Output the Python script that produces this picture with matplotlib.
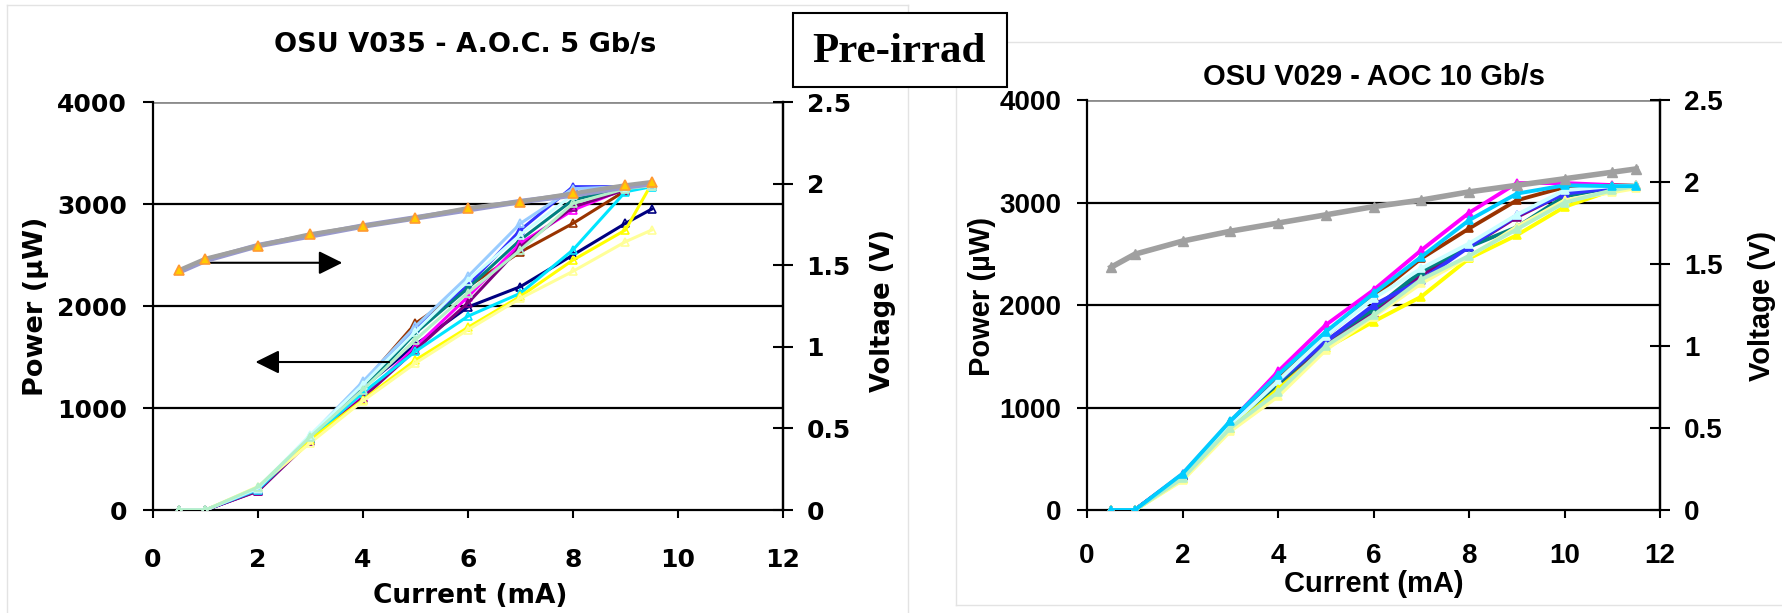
import matplotlib
matplotlib.use("Agg")
from matplotlib import pyplot as plt
from matplotlib.patches import Rectangle
from matplotlib.lines import Line2D

plt.rcParams['font.family'] = ['Liberation Sans', 'DejaVu Sans']
plt.rcParams['font.weight'] = 'bold'

# left chart: OSU V035 - A.O.C. 5 Gb/s
current_l = [0.5, 1, 2, 3, 4, 5, 6, 7, 8, 9, 9.5]
volt_l_a = [1.47, 1.54, 1.62, 1.69, 1.74, 1.79, 1.85, 1.89, 1.94, 1.99, 2.01]
volt_l_b = [1.46, 1.53, 1.62, 1.68, 1.74, 1.79, 1.84, 1.89, 1.93, 1.98, 2.00]
power_l = {
    "#000080": [0, 0, 190, 700, 1200, 1620, 1990, 2190, 2500, 2810, 2950],
    "#993300": [0, 0, 200, 710, 1240, 1830, 2190, 2530, 2810, 3130, 3180],
    "#3333FF": [0, 0, 195, 720, 1210, 1780, 2200, 2745, 3170, 3170, 3190],
    "#008080": [0, 0, 200, 700, 1190, 1735, 2175, 2650, 3040, 3160, 3190],
    "#FF00FF": [0, 0, 190, 690, 1110, 1600, 2090, 2615, 2940, 3150, 3180],
    "#800080": [0, 0, 185, 680, 1100, 1570, 2030, 2580, 2970, 3140, 3180],
    "#00E5FF": [0, 0, 200, 700, 1150, 1555, 1900, 2125, 2550, 3120, 3170],
    "#FFFF00": [0, 0, 220, 690, 1080, 1470, 1790, 2095, 2450, 2745, 3200],
    "#FFFF99": [0, 0, 230, 660, 1070, 1440, 1767, 2075, 2340, 2630, 2745],
    "#99CCFF": [0, 0, 210, 730, 1260, 1800, 2290, 2810, 3150, 3170, 3190],
    "#CCFFFF": [0, 0, 215, 740, 1230, 1750, 2250, 2700, 3090, 3160, 3180],
    "#B3F0C8": [0, 0, 225, 720, 1180, 1670, 2130, 2550, 3005, 3150, 3180],
}

# right chart: OSU V029 - AOC 10 Gb/s
current_r = [0.5, 1, 2, 3, 4, 5, 6, 7, 8, 9, 10, 11, 11.5]
volt_r = [1.48, 1.56, 1.64, 1.70, 1.75, 1.80, 1.85, 1.89, 1.94, 1.98, 2.02, 2.06, 2.08]
power_r = {
    "#FF00FF": [0, 0, 350, 860, 1352, 1806, 2147, 2536, 2900, 3190, 3190, 3170, 3165],
    "#993300": [0, 0, 345, 855, 1280, 1700, 2080, 2455, 2747, 3022, 3150, 3165, 3170],
    "#800080": [0, 0, 335, 830, 1206, 1620, 1920, 2293, 2568, 2860, 3090, 3150, 3160],
    "#008080": [0, 0, 330, 825, 1230, 1650, 1960, 2330, 2568, 2760, 3060, 3150, 3165],
    "#3333FF": [0, 0, 340, 840, 1255, 1644, 2000, 2244, 2568, 2876, 3087, 3140, 3165],
    "#CCFFFF": [0, 0, 325, 820, 1260, 1700, 2065, 2357, 2600, 2880, 3120, 3160, 3170],
    "#FFFF00": [0, 0, 300, 790, 1180, 1580, 1839, 2082, 2455, 2682, 2958, 3120, 3165],
    "#FFFF99": [0, 0, 290, 770, 1110, 1563, 1887, 2212, 2471, 2763, 3022, 3100, 3140],
    "#B3F0C8": [0, 0, 310, 800, 1150, 1600, 1900, 2250, 2480, 2740, 3000, 3120, 3160],
    "#00CCFF": [0, 0, 355, 870, 1320, 1741, 2114, 2471, 2828, 3087, 3168, 3160, 3160],
}

power_ticks = [0, 1000, 2000, 3000, 4000]
volt_ticks = [0, 0.5, 1, 1.5, 2, 2.5]
volt_labels = ["0", "0.5", "1", "1.5", "2", "2.5"]
current_ticks = [0, 2, 4, 6, 8, 10, 12]

fig = plt.figure(figsize=(17.83, 6.13), dpi=100)

# faint slide frames
frame = dict(color="#e3e3e3", lw=1)
fig.add_artist(Line2D([0.0039, 0.5093], [0.9918, 0.9918], **frame))
fig.add_artist(Line2D([0.0039, 0.0039], [0.0, 0.9918], **frame))
fig.add_artist(Line2D([0.5093, 0.5093], [0.0, 0.9918], **frame))
fig.add_artist(Line2D([0.5362, 1.0], [0.932, 0.932], **frame))
fig.add_artist(Line2D([0.5362, 0.5362], [0.013, 0.932], **frame))
fig.add_artist(Line2D([0.5362, 1.0], [0.013, 0.013], **frame))


def setup(ax, xs, powers, hollow, fam, sz, lab_pos, xpad, lw):
    ax.set_xlim(0, 12)
    ax.set_ylim(0, 4000)
    ax.set_yticks(power_ticks)
    ax.set_xticks(current_ticks)
    for p in power_ticks[1:4]:
        ax.axhline(p, color="black", lw=1.6, zorder=1)
    ax.axhline(4000, color="#8c8c8c", lw=2, zorder=1)
    ax.spines['top'].set_visible(False)
    for s in ['left', 'bottom', 'right']:
        ax.spines[s].set_linewidth(1.6)
    ax.tick_params(axis='y', direction='out', length=7, width=1.5, labelsize=sz[0], pad=11.5)
    ax.tick_params(axis='x', direction='out', length=6, width=1.5, labelsize=sz[0], pad=xpad)
    for t in ax.get_xticklabels() + ax.get_yticklabels():
        t.set_family(fam)
    ax.set_xlabel("Current (mA)", fontsize=sz[1], fontweight='bold', family=fam, va='center')
    ax.xaxis.set_label_coords(*lab_pos[0])
    ax.set_ylabel("Power (µW)", fontsize=sz[2], fontweight='bold', family=fam, va='center')
    ax.yaxis.set_label_coords(*lab_pos[1])
    for c, ys in powers.items():
        ax.plot(xs, ys, color=c, lw=lw, marker='^', ms=6,
                mfc='none' if hollow else c, mec=c, mew=1.2, zorder=3)
    ax2 = ax.twinx()
    ax2.set_ylim(0, 2.5)
    ax2.set_yticks(volt_ticks)
    ax2.set_yticklabels(volt_labels)
    for s in ax2.spines.values():
        s.set_visible(False)
    ax2.spines['right'].set_visible(True)
    ax2.spines['right'].set_linewidth(1.6)
    ax2.tick_params(axis='y', direction='inout', length=14, width=1.5, labelsize=sz[0], pad=10)
    for t in ax2.get_yticklabels():
        t.set_family(fam)
    ax2.set_ylabel("Voltage (V)", fontsize=sz[3], fontweight='bold', family=fam, va='center')
    ax2.yaxis.set_label_coords(*lab_pos[2])
    return ax2


left_font = ['DejaVu Sans']
right_font = ['Liberation Sans', 'DejaVu Sans']

axl = fig.add_axes([0.0858, 0.168, 0.3533, 0.6656])
axl2 = setup(axl, current_l, power_l, True, left_font, (18, 19, 19.5, 18.5),
             ((0.503, -0.211), (-0.186, 0.5), (1.159, 0.49)), 21, 2.2)
axl2.plot(current_l, volt_l_b, color="#9999CC", lw=4, zorder=2)
axl2.plot(current_l, volt_l_a, color="#A0A0A0", lw=3, marker='^', ms=7,
          mfc='#FFCC00', mec='#FF9933', mew=1.2, zorder=3)
arrow = dict(arrowstyle="-|>,head_length=1.45,head_width=0.72", color="black", lw=1.5)
axl.annotate("", xy=(3.66, 2424), xytext=(0.98, 2424), arrowprops=arrow)
axl.annotate("", xy=(1.90, 1451), xytext=(4.55, 1451), arrowprops=arrow)
fig.text(0.2608, 0.9266, "OSU V035 - A.O.C. 5 Gb/s", fontsize=19.5, fontweight='bold',
         family=left_font, ha='center', va='center')

axr = fig.add_axes([0.6097, 0.168, 0.3214, 0.6688])
axr2 = setup(axr, current_r, power_r, False, right_font, (20, 21, 21, 21),
             ((0.5, -0.18), (-0.183, 0.52), (1.178, 0.498)), 18, 2.8)
axr2.plot(current_r, volt_r, color="#A0A0A0", lw=4, marker='^', ms=7,
          mfc='#A0A0A0', mec='#A0A0A0', zorder=3)
fig.text(0.7706, 0.8744, "OSU V029 - AOC 10 Gb/s", fontsize=21, fontweight='bold',
         family=right_font, ha='center', va='center')

# Pre-irrad label box
fig.add_artist(Rectangle((0.4448, 0.8586), 0.12, 0.1207, transform=fig.transFigure,
                         facecolor="white", edgecolor="black", lw=1.5, zorder=5))
fig.text(0.5039, 0.8989, "Pre-irrad", fontsize=31, fontweight='bold',
         family=['Liberation Serif', 'DejaVu Serif'], ha='center', va='baseline', zorder=6)

fig.savefig("out.png", dpi=100)
